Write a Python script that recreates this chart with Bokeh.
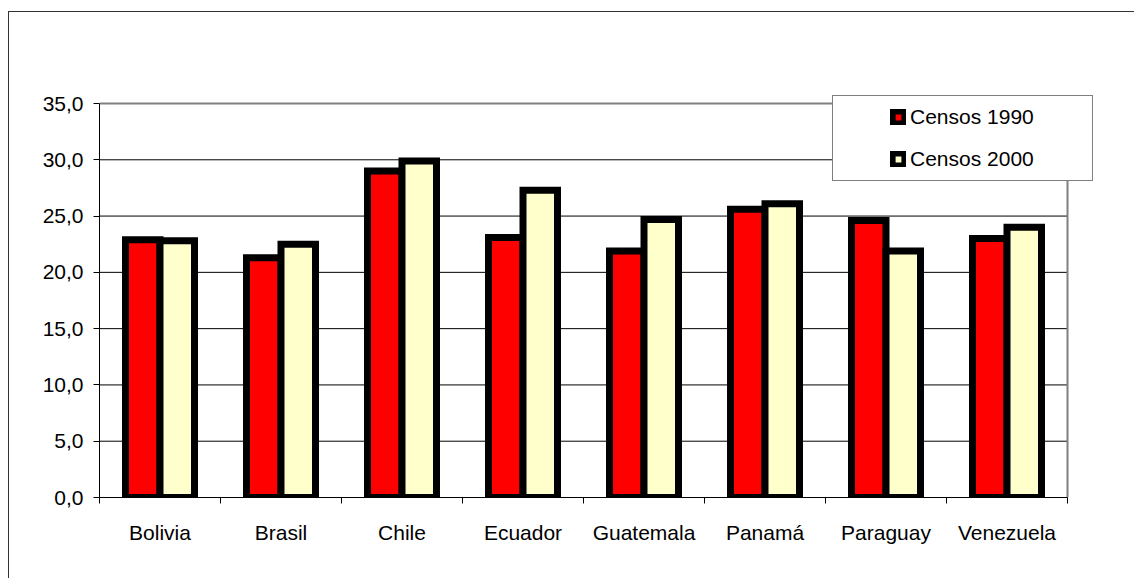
import numpy as np
from bokeh.plotting import figure
from bokeh.models import FixedTicker, Legend, LegendItem, Range1d
from bokeh.embed import file_html
from bokeh.resources import INLINE

# ---- data ----
countries = ["Bolivia", "Brasil", "Chile", "Ecuador", "Guatemala", "Panamá", "Paraguay", "Venezuela"]
censos_1990 = [22.9, 21.3, 29.0, 23.1, 21.9, 25.6, 24.6, 23.0]
censos_2000 = [22.8, 22.5, 29.9, 27.3, 24.7, 26.1, 21.9, 24.0]
series_labels = ["Censos 1990", "Censos 2000"]
y_ticks = [0, 5, 10, 15, 20, 25, 30, 35]

FONT = "Liberation Sans"
FS = "21px"

n = len(countries)
pos = np.arange(1, n + 1)
bw = 0.285
y_max = y_ticks[-1]

# layout (page pixels): plot area 99..1067 x 103..497, frame enlarged so the legend is not clipped
PA_L, PA_R, PA_T, PA_B = 99, 1067, 103, 497
FR_T, FR_R = 90, 1100
x_end = 0.5 + n * (FR_R - PA_L) / (PA_R - PA_L)
y_end = y_max * (PA_B - FR_T) / (PA_B - PA_T)

p = figure(width=1126, height=567, output_backend="svg", toolbar_location=None,
           x_range=Range1d(0.5, x_end), y_range=Range1d(0, y_end),
           min_border_left=90, min_border_top=FR_T - 12, min_border_right=1126 - (FR_R - 9),
           min_border_bottom=82,
           background_fill_color="white", border_fill_color="white",
           margin=(11, 0, 0, 8))
p.styles = {"border-left": "1px solid #333333", "border-top": "1px solid #333333"}
p.outline_line_color = None
p.xgrid.visible = False
p.ygrid.visible = False

# horizontal gridlines limited to the plot area
inner = y_ticks[1:-1]
p.segment(x0=[0.5] * len(inner), x1=[n + 0.5] * len(inner), y0=inner, y1=inner,
          line_color="black", line_width=1)
# plot-area border (top and right), grey
p.segment(x0=[0.5, n + 0.5], x1=[n + 0.5, n + 0.5], y0=[y_max, 0], y1=[y_max, y_max],
          line_color="#808080", line_width=2)

r1 = p.vbar(x=pos - bw / 2, top=censos_1990, width=bw, fill_color="#FF0000",
            line_color="black", line_width=7, line_join="miter")
r2 = p.vbar(x=pos + bw / 2, top=censos_2000, width=bw, fill_color="#FFFFCC",
            line_color="black", line_width=7, line_join="miter")

# y axis
p.yaxis.bounds = (0, y_max)
p.yaxis.ticker = FixedTicker(ticks=y_ticks)
p.yaxis.major_label_overrides = {t: f"{t:.1f}".replace(".", ",") for t in y_ticks}
p.yaxis.axis_line_color = "black"
p.yaxis.major_tick_line_color = "black"
p.yaxis.major_tick_out = 6
p.yaxis.major_tick_in = 0
p.yaxis.minor_tick_line_color = None
p.yaxis.major_label_text_font = FONT
p.yaxis.major_label_text_font_size = FS
p.yaxis.major_label_text_color = "black"
p.yaxis.major_label_standoff = 10

# x axis: labels at category centres, tick marks at category boundaries
p.xaxis.bounds = (0.5, n + 0.5)
p.xaxis.ticker = FixedTicker(ticks=[int(v) for v in pos],
                             minor_ticks=[float(v) for v in np.arange(0.5, n + 1, 1.0)])
p.xaxis.major_label_overrides = {int(i): c for i, c in zip(pos, countries)}
p.xaxis.axis_line_color = "black"
p.xaxis.major_tick_line_color = None
p.xaxis.major_tick_out = 0
p.xaxis.major_tick_in = 0
p.xaxis.minor_tick_line_color = "black"
p.xaxis.minor_tick_out = 6
p.xaxis.minor_tick_in = 0
p.xaxis.major_label_text_font = FONT
p.xaxis.major_label_text_font_size = FS
p.xaxis.major_label_text_color = "black"
p.xaxis.major_label_standoff = 17

legend = Legend(items=[LegendItem(label=series_labels[0], renderers=[r1]),
                       LegendItem(label=series_labels[1], renderers=[r2])],
                location=(733, 316), orientation="vertical",
                glyph_width=16, glyph_height=16, label_standoff=4,
                label_width=173, label_height=24, spacing=18, padding=9, margin=0,
                label_text_font=FONT, label_text_font_size=FS, label_text_color="black",
                border_line_color="#000000", border_line_width=1,
                background_fill_color="white", background_fill_alpha=1.0,
                title=" ", title_location="left", title_standoff=24,
                title_text_font_size=FS)
p.add_layout(legend)

open("out.html", "w").write(file_html(p, INLINE))
